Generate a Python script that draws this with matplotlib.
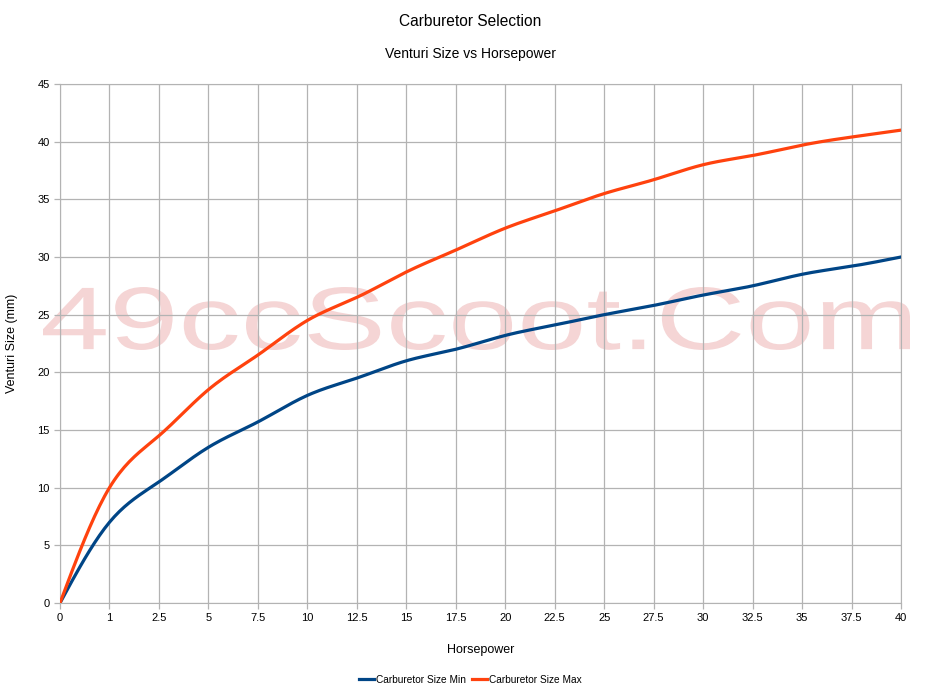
import numpy as np
import matplotlib.pyplot as plt
from matplotlib.textpath import TextPath
from matplotlib.patches import PathPatch
from matplotlib.font_manager import FontProperties
from matplotlib.transforms import Affine2D

plt.rcParams['font.family'] = ['Liberation Sans', 'DejaVu Sans']

# horsepower categories (evenly spaced on the chart)
horsepower = ['0', '1', '2.5', '5', '7.5', '10', '12.5', '15', '17.5', '20',
              '22.5', '25', '27.5', '30', '32.5', '35', '37.5', '40']
size_min = [0, 7.0, 10.5, 13.5, 15.7, 18.0, 19.5, 21.0, 22.0, 23.2,
            24.1, 25.0, 25.8, 26.7, 27.5, 28.5, 29.2, 30.0]
size_max = [0, 10.0, 14.5, 18.5, 21.5, 24.5, 26.5, 28.7, 30.6, 32.5,
            34.0, 35.5, 36.7, 38.0, 38.8, 39.7, 40.4, 41.0]


def spline(y, n=20):
    # natural cubic spline through the points, like the office chart smoothing
    y = np.asarray(y, float)
    k = len(y)
    A = np.zeros((k, k))
    r = np.zeros(k)
    A[0, 0] = A[-1, -1] = 1
    for i in range(1, k - 1):
        A[i, i - 1], A[i, i], A[i, i + 1] = 1, 4, 1
        r[i] = 6 * (y[i + 1] - 2 * y[i] + y[i - 1])
    m = np.linalg.solve(A, r)
    xs, ys = [], []
    for i in range(k - 1):
        t = np.linspace(0, 1, n, endpoint=False)
        a = y[i]
        b = y[i + 1] - y[i] - (2 * m[i] + m[i + 1]) / 6
        c = m[i] / 2
        d = (m[i + 1] - m[i]) / 6
        xs.extend(i + t)
        ys.extend(a + b * t + c * t ** 2 + d * t ** 3)
    xs.append(k - 1)
    ys.append(y[-1])
    return np.array(xs), np.array(ys)


W, H = 941, 690
fig = plt.figure(figsize=(W / 100, H / 100), dpi=100)
ax = fig.add_axes([60 / W, 1 - 603 / H, 841 / W, 519 / H])

# stretched watermark text, placed in pixel coords
tp = TextPath((0, 0), '49ccScoot.Com', size=100, prop=FontProperties(family='Liberation Sans'))
bb = tp.get_extents()
sx = (910 - 43) / bb.width
sy = (350 - 287) / bb.height
tr = Affine2D().translate(-bb.x0, -bb.y0).scale(sx, sy).translate(43, H - 350)
wm = PathPatch(tp, transform=tr, facecolor='#f5d5d5', edgecolor='none', zorder=0.1, clip_on=False)
ax.add_artist(wm)

x = np.arange(len(horsepower))
xs, ys = spline(size_min)
ax.plot(xs, ys, color='#004586', lw=2.3, label='Carburetor Size Min', zorder=3)
xs, ys = spline(size_max)
ax.plot(xs, ys, color='#ff420e', lw=2.3, label='Carburetor Size Max', zorder=3)

ax.set_xlim(0, len(horsepower) - 1)
ax.set_ylim(0, 45)
ax.set_xticks(x)
ax.set_xticklabels(horsepower)
ax.set_yticks(np.arange(0, 46, 5))
ax.grid(True, color='#b3b3b3', lw=0.9)
ax.set_axisbelow(True)
for s in ax.spines.values():
    s.set_color('#b3b3b3')
ax.tick_params(colors='#b3b3b3', labelcolor='black', labelsize=8, length=4, width=0.9)

ax.set_xlabel('Horsepower', fontsize=9, labelpad=15)
ax.set_ylabel('Venturi Size (mm)', fontsize=9, labelpad=14)

fig.text(0.5, 1 - 21 / H, 'Carburetor Selection', ha='center', va='center', fontsize=11.2)
fig.text(0.5, 1 - 54 / H, 'Venturi Size vs Horsepower', ha='center', va='center', fontsize=10)

fig.legend(loc='center', bbox_to_anchor=(0.5, 1 - 680 / H), ncol=2, frameon=False,
           fontsize=7.3, handlelength=1.5, handletextpad=0.2, columnspacing=0.6)

fig.savefig('out.png', dpi=100)
